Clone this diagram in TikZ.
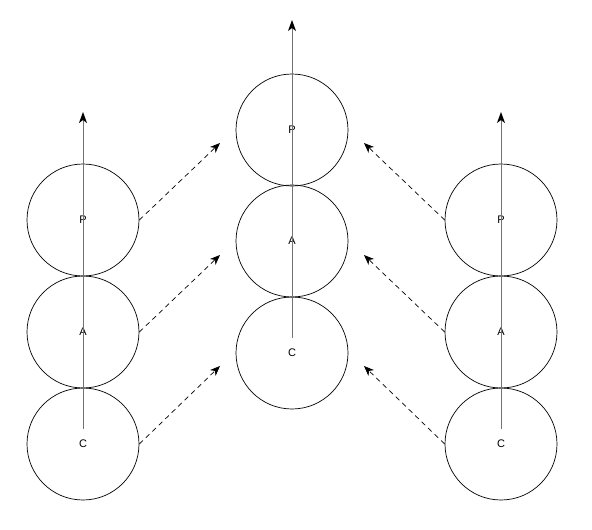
\documentclass[tikz,border=0pt]{standalone}
\usepackage{fontspec}
\setmainfont{Liberation Sans}
\usetikzlibrary{arrows.meta}

\begin{document}
\begin{tikzpicture}[x=1pt,y=-1pt,
  ring/.style={draw,shape=circle,minimum size=112pt,inner sep=0pt,line width=0.7pt,
    font=\fontsize{11}{13}\selectfont},
  axis/.style={draw=black!55,line width=1pt,-{Stealth[length=11pt,width=8pt,inset=3pt,fill=black,color=black]}},
  link/.style={draw,line width=0.7pt,dash pattern=on 5pt off 4pt,-{Stealth[length=10pt,width=8pt,inset=3pt]}}]
  \useasboundingbox (0,0) rectangle (592,530);
  \path (83,220) node[ring] (lp) {P} (83,332) node[ring] (la) {A} (83,444) node[ring] (lc) {C}
  (292,130) node[ring] (mp) {P} (292,241) node[ring] (ma) {A} (292,353) node[ring] (mc) {C}
  (501,220) node[ring] (rp) {P} (501,332) node[ring] (ra) {A} (501,444) node[ring] (rc) {C};
  \path (83,112) coordinate (ltop) (292,20) coordinate (mtop) (501,112) coordinate (rtop)
  (220,143) coordinate (m1) (220,255) coordinate (m2) (220,366) coordinate (m3)
  (364,143) coordinate (n1) (364,255) coordinate (n2) (364,366) coordinate (n3);
  \draw[axis] ([yshift=15]lc.center) -- (ltop);
  \draw[axis] ([yshift=15]mc.center) -- (mtop);
  \draw[axis] ([yshift=15]rc.center) -- (rtop);
  \draw[link] (lp.east) -- (m1);
  \draw[link] (la.east) -- (m2);
  \draw[link] (lc.east) -- (m3);
  \draw[link] (rp.west) -- (n1);
  \draw[link] (ra.west) -- (n2);
  \draw[link] (rc.west) -- (n3);
\end{tikzpicture}
\end{document}
